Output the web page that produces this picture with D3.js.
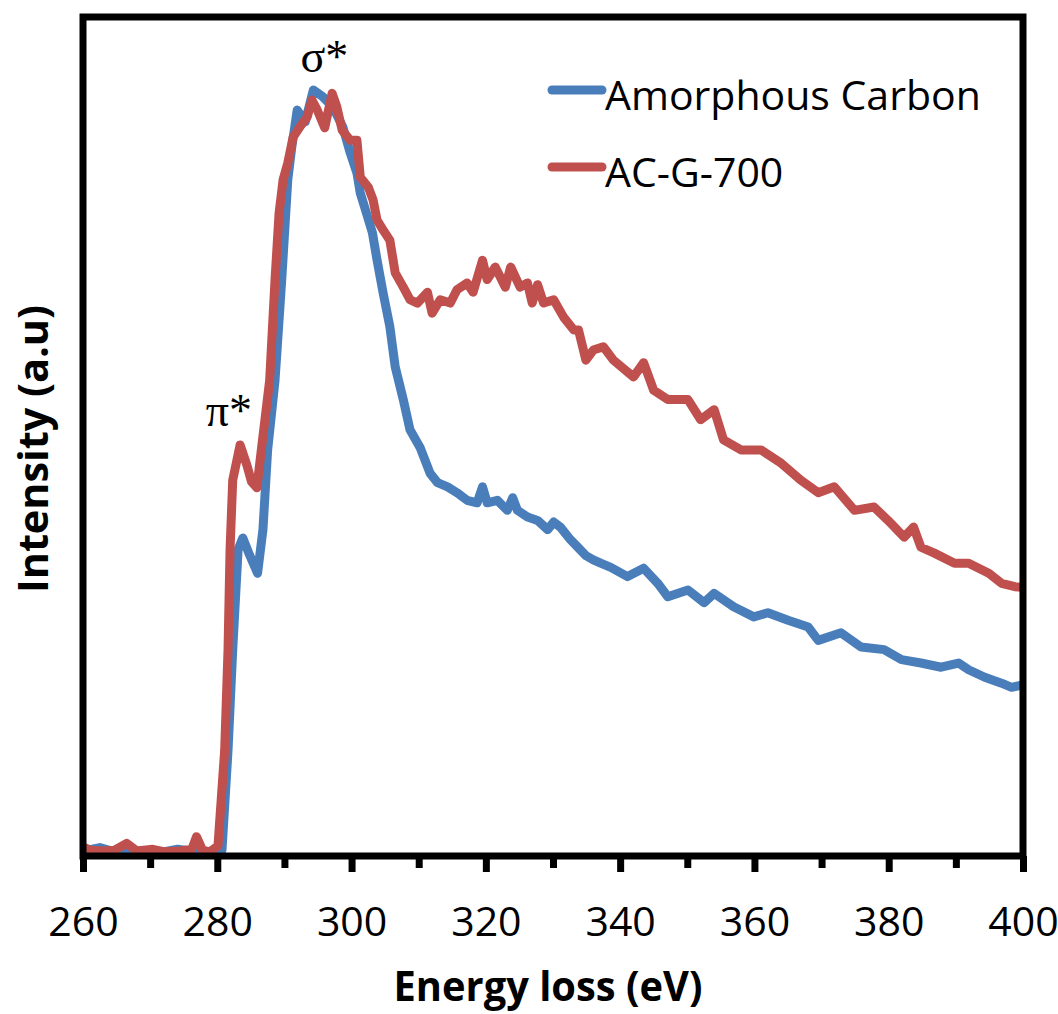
<!DOCTYPE html>
<html>
<head>
<meta charset="utf-8">
<script src="https://cdn.jsdelivr.net/npm/d3@7"></script>
<style>
  body { margin: 0; background: #fff; }
  svg { display: block; }
</style>
</head>
<body>
<div id="chart"></div>
<script>
var width = 1058, height = 1014;
var plot = { l: 83, r: 1023, t: 17, b: 856 };

// Energy loss (eV) / intensity (a.u.)
var acEnergy = [260, 262.5, 264.7, 268.4, 271.4, 274.1, 276.6, 279.6, 280.7, 281.6, 282.3, 283.1, 283.8, 284.8, 286.0, 286.8,
    287.5, 288.6, 289.6, 290.5, 291.1, 291.9, 293.1, 294.3, 295.7, 297.2, 298.7, 299.8, 300.8, 301.3, 302.3, 303.1,
    303.8, 304.7, 305.7, 306.5, 307.7, 308.7, 310.2, 311.7, 312.8, 314.3, 315.7, 317.2, 318.7, 319.5, 320.2, 321.7,
    323.2, 324.0, 324.7, 326.2, 327.7, 329.2, 330.1, 331.1, 332.6, 333.7, 334.9, 336.0, 337.1, 338.6, 341.1, 343.5,
    345.6, 347.1, 350.1, 352.5, 354.0, 356.9, 359.9, 362.0, 365.0, 368.0, 369.5, 372.9, 375.9, 379.3, 381.9, 384.8,
    387.8, 390.4, 391.9, 394.3, 396.8, 398.3, 400];
var acIntensity = [0.6, 1.0, 0.5, 0.6, 0.4, 0.8, 0.5, 0.4, 0.7, 12.6, 24.6, 36.5, 37.9, 35.9, 33.7, 38.9,
    48.4, 56.7, 68.7, 80.6, 84.5, 88.9, 87.5, 91.3, 90.5, 89.3, 86.9, 83.8, 81.4, 79.0, 76.4, 74.3,
    71.0, 67.1, 63.1, 58.3, 54.4, 50.8, 48.7, 45.6, 44.5, 44.0, 43.3, 42.4, 42.1, 44.0, 42.1, 42.4,
    41.2, 42.7, 41.2, 40.4, 40.0, 38.9, 39.8, 39.2, 37.7, 36.8, 35.8, 35.3, 34.9, 34.4, 33.3, 34.3,
    32.5, 30.9, 31.7, 30.2, 31.3, 29.7, 28.5, 29.0, 28.1, 27.3, 25.7, 26.6, 24.9, 24.6, 23.4, 23.0,
    22.5, 23.0, 22.2, 21.3, 20.6, 20.1, 20.4];

var g700Energy = [260, 261, 263.2, 264.7, 266.5, 268.0, 270.4, 272.2, 274.4, 276.2, 276.9, 277.8, 278.9, 280.1, 281.1, 281.6,
    281.9, 282.3, 283.4, 284.4, 285.1, 285.9, 286.6, 287.8, 288.6, 289.2, 289.8, 290.5, 291.3, 292.3, 293.4, 294.1,
    294.9, 296.0, 297.1, 297.8, 298.6, 299.8, 300.8, 301.3, 302.5, 303.2, 303.8, 304.7, 305.7, 306.5, 307.7, 308.7,
    309.8, 311.3, 312.0, 313.2, 314.7, 315.7, 317.2, 318.1, 319.5, 320.2, 321.4, 322.9, 323.7, 325.1, 326.2, 326.9,
    327.7, 328.6, 330.1, 331.6, 333.1, 333.8, 334.9, 336.0, 337.5, 339.0, 342.0, 343.5, 345.0, 347.1, 350.1, 352.0,
    354.0, 355.4, 358.0, 361.0, 364.0, 366.9, 369.5, 371.9, 374.9, 377.8, 379.9, 382.3, 383.7, 384.8, 386.8, 389.8,
    391.9, 394.9, 396.8, 398.8, 400];
var g700Intensity = [1.1, 0.7, 0.6, 0.7, 1.5, 0.6, 0.8, 0.5, 0.6, 0.8, 2.3, 0.7, 0.5, 1.2, 12.6, 24.6,
    36.5, 44.8, 49.0, 46.6, 44.6, 43.9, 48.7, 56.7, 68.7, 76.6, 80.6, 82.6, 85.7, 86.9, 88.1, 90.1,
    88.9, 86.8, 90.9, 89.3, 86.5, 85.3, 85.3, 80.9, 79.7, 78.2, 75.8, 74.6, 73.4, 69.5, 67.8, 66.3,
    65.9, 67.2, 64.7, 66.3, 65.9, 67.5, 68.3, 67.2, 71.0, 68.7, 70.2, 67.8, 70.2, 67.8, 68.3, 65.9,
    68.1, 65.9, 66.3, 64.2, 62.7, 62.7, 59.1, 60.3, 60.7, 59.1, 57.1, 58.8, 55.5, 54.4, 54.4, 52.0,
    53.2, 49.6, 48.4, 48.4, 46.8, 44.8, 43.3, 44.0, 41.2, 41.6, 40.0, 38.0, 39.2, 36.8, 36.1, 34.9,
    34.9, 33.7, 32.5, 32.1, 32.0];

var seriesNames = ["Amorphous Carbon", "AC-G-700"];
var seriesColors = ["#4a7ebb", "#c0504d"];
var majorTicks = [260, 280, 300, 320, 340, 360, 380, 400];
var minorTicks = [270, 290, 310, 330, 350, 370, 390];

var series = [
    { name: seriesNames[0], color: seriesColors[0], values: acEnergy.map((e, i) => ({ e: e, v: acIntensity[i] })) },
    { name: seriesNames[1], color: seriesColors[1], values: g700Energy.map((e, i) => ({ e: e, v: g700Intensity[i] })) }
];

var svg = d3.select("#chart").append("svg")
    .attr("width", width)
    .attr("height", height);

var x = d3.scaleLinear().domain([260, 400]).range([plot.l, plot.r]);
var y = d3.scaleLinear().domain([0, 100]).range([plot.b, plot.t]);

//Curves first, frame over them
var line = d3.line().x(d => x(d.e)).y(d => y(d.v));
svg.append("clipPath").attr("id", "clip")
    .append("rect").attr("x", plot.l).attr("y", plot.t - 10)
    .attr("width", plot.r - plot.l).attr("height", plot.b - plot.t + 10);

svg.append("g").attr("clip-path", "url(#clip)")
    .selectAll("path").data(series).enter()
    .append("path")
    .attr("d", d => line(d.values))
    .attr("fill", "none")
    .attr("stroke", d => d.color)
    .attr("stroke-width", 9)
    .attr("stroke-linejoin", "round")
    .attr("stroke-linecap", "round");

//Minor ticks
svg.append("g")
    .attr("transform", `translate(0, ${plot.b})`)
    .call(d3.axisBottom(x).tickValues(minorTicks).tickSize(12).tickFormat(""))
    .call(a => a.select(".domain").remove())
    .call(a => a.selectAll("line").attr("stroke", "#000").attr("stroke-width", 7));

//Major ticks + labels
var xAxis = svg.append("g")
    .attr("transform", `translate(0, ${plot.b})`)
    .call(d3.axisBottom(x).tickValues(majorTicks).tickSize(16).tickPadding(35).tickFormat(d3.format("d")));
xAxis.select(".domain").remove();
xAxis.selectAll("line").attr("stroke", "#000").attr("stroke-width", 7);
xAxis.selectAll("text")
    .attr("fill", "#000")
    .style("font-family", "'Open Sans', sans-serif")
    .style("font-size", "41px");

//Frame
svg.append("rect")
    .attr("x", plot.l).attr("y", plot.t)
    .attr("width", plot.r - plot.l).attr("height", plot.b - plot.t)
    .attr("fill", "none")
    .attr("stroke", "#000")
    .attr("stroke-width", 7);

//Axis titles
svg.append("text")
    .attr("x", 548).attr("y", 1001)
    .attr("text-anchor", "middle")
    .attr("textLength", 309).attr("lengthAdjust", "spacingAndGlyphs")
    .style("font-family", "'Open Sans', sans-serif")
    .style("font-weight", "bold")
    .style("font-size", "41px")
    .text("Energy loss (eV)");

svg.append("text")
    .attr("transform", "translate(48, 449) rotate(-90)")
    .attr("text-anchor", "middle")
    .attr("textLength", 288).attr("lengthAdjust", "spacingAndGlyphs")
    .style("font-family", "'Open Sans', sans-serif")
    .style("font-weight", "bold")
    .style("font-size", "41px")
    .text("Intensity (a.u)");

//Peak labels
var peakLabels = [{ text: "σ*", e: 292.4, v: 93.4 }, { text: "π*", e: 278.3, v: 51.3 }];
svg.selectAll(".peak").data(peakLabels).enter()
    .append("text")
    .attr("class", "peak")
    .attr("x", d => x(d.e)).attr("y", d => y(d.v))
    .style("font-family", "'Liberation Serif', 'Times New Roman', serif")
    .style("font-size", "46px")
    .text(d => d.text);

//Legend
var legend = svg.append("g").attr("transform", "translate(548, 90)");
var item = legend.selectAll("g").data(series).enter()
    .append("g").attr("transform", (d, i) => `translate(0, ${i * 77})`);
item.append("line")
    .attr("x1", 4).attr("x2", 54)
    .attr("stroke", d => d.color)
    .attr("stroke-width", 9)
    .attr("stroke-linecap", "round");
item.append("text")
    .attr("x", 57).attr("y", 20)
    .style("font-family", "'Open Sans', sans-serif")
    .style("font-size", "41px")
    .text(d => d.name);
</script>
</body>
</html>
